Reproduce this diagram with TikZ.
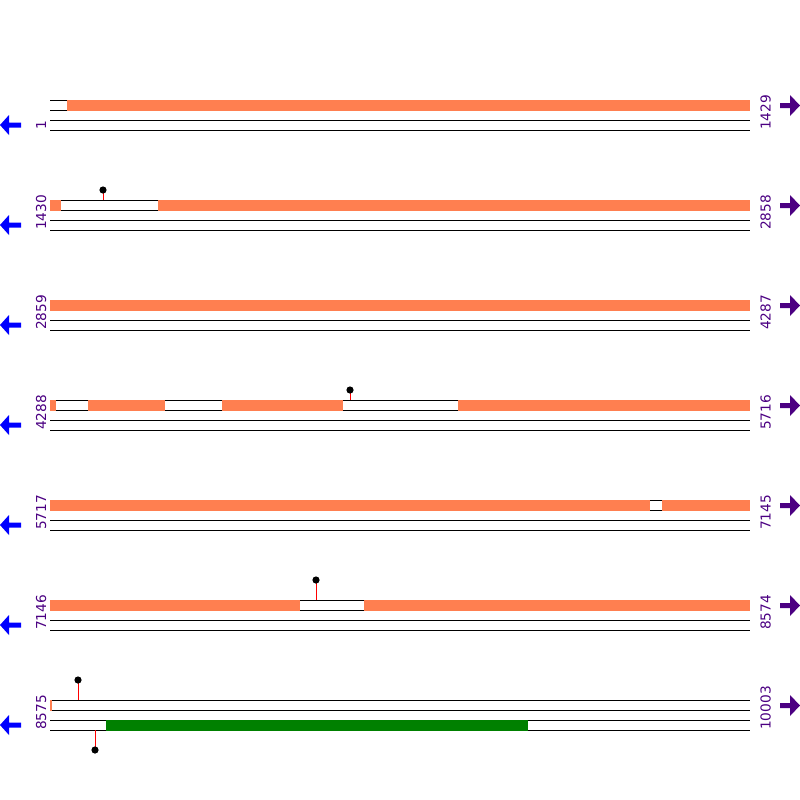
\documentclass[tikz,border=0pt]{standalone}
\usepackage{fontspec}
\setmainfont{DejaVu Sans}
\definecolor{feat}{RGB}{255,127,80}
\definecolor{indig}{RGB}{75,0,130}
\definecolor{grn}{RGB}{0,128,0}
\tikzset{
  strand/.style={line width=1pt,black},
  orangebar/.style={fill=feat,draw=none},
  greenbar/.style={fill=grn,draw=none},
  stick/.style={line width=1pt,red},
  ball/.style={fill=black,draw=none},
  numlab/.style={rotate=90,anchor=base west,inner sep=0pt,text=indig,font=\fontsize{13.7}{14}\selectfont},
  larrow/.style={fill=blue,draw=none},
  rarrow/.style={fill=indig,draw=none}
}
\newcommand{\rowbase}[3]{%
  % #1 = y0, #2 = left label, #3 = right label
  \foreach \yy in {0,10,20,30}{\draw[strand] (50,#1+\yy) -- (750,#1+\yy);}
  \node[numlab] (L#2) at (46,#1+30) {#2};
  \node[numlab] (R#3) at (770.5,#1+30) {#3};
  \fill[larrow] (0,#1+25) -- (9,#1+15) -- (9,#1+22.5) -- (21,#1+22.5) -- (21,#1+27.5) -- (9,#1+27.5) -- (9,#1+35) -- cycle;
  \fill[rarrow] (800,#1+5.5) -- (790,#1-5) -- (790,#1+3) -- (780,#1+3) -- (780,#1+8) -- (790,#1+8) -- (790,#1+16) -- cycle;
}
\newcommand{\obar}[3]{\fill[orangebar] (#2,#1-0.5) rectangle (#3,#1+10.5);}
\newcommand{\lolli}[3]{% x, stick top/ball y, stick base y
  \draw[stick] (#1,#3) -- (#1,#2);
  \fill[ball] (#1,#2) circle (3.6);
}
\begin{document}
\begin{tikzpicture}[x=1pt,y=-1pt]
\useasboundingbox (0,0) rectangle (800,800);
% row 1
\rowbase{100}{1}{1429}
\obar{100}{67}{750}
% row 2
\rowbase{200}{1430}{2858}
\obar{200}{50}{61}\obar{200}{158}{750}
\lolli{103}{190}{200}
% row 3
\rowbase{300}{2859}{4287}
\obar{300}{50}{750}
% row 4
\rowbase{400}{4288}{5716}
\obar{400}{50}{56}\obar{400}{88}{165}\obar{400}{222}{343}\obar{400}{458}{750}
\lolli{350}{390}{400}
% row 5
\rowbase{500}{5717}{7145}
\obar{500}{50}{650}\obar{500}{662}{750}
% row 6
\rowbase{600}{7146}{8574}
\obar{600}{50}{300}\obar{600}{364}{750}
\lolli{316}{580}{600}
% row 7
\rowbase{700}{8575}{10003}
\obar{700}{50}{52}
\fill[greenbar] (106,719.5) rectangle (528,730.5);
\lolli{78}{680}{700}
\lolli{95}{750}{730}
\end{tikzpicture}
\end{document}
